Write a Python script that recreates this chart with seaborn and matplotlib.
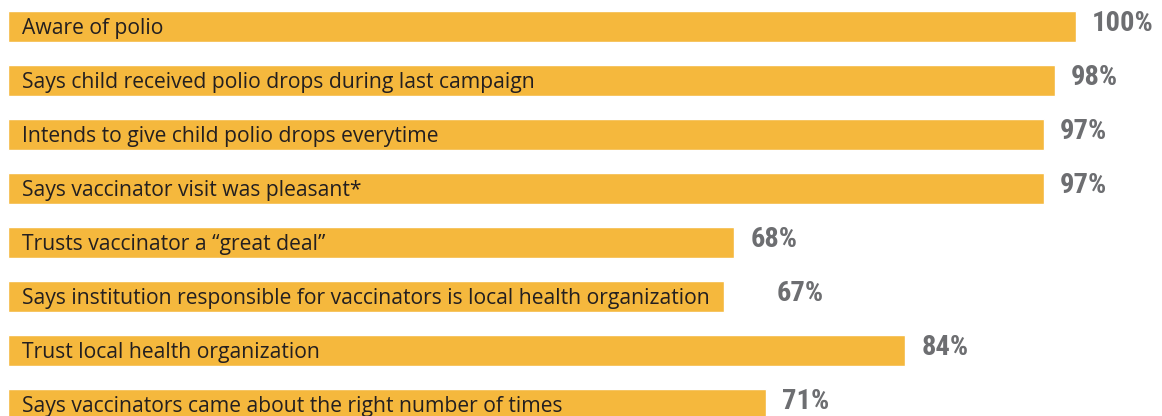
import matplotlib
matplotlib.use('Agg')
import matplotlib.pyplot as plt
import seaborn as sns
import pandas as pd
from matplotlib import font_manager

# survey results
questions = ['Aware of polio',
             'Says child received polio drops during last campaign',
             'Intends to give child polio drops everytime',
             'Says vaccinator visit was pleasant*',
             'Trusts vaccinator a \u201cgreat deal\u201d',
             'Says institution responsible for vaccinators is local health organization',
             'Trust local health organization',
             'Says vaccinators came about the right number of times']
percent = [100, 98, 97, 97, 68, 67, 84, 71]

# extra gap for the value label (the 67% label sits further out in the original)
label_pad = [1.5, 1.5, 1.5, 1.5, 1.5, 5.0, 1.5, 1.5]

bar_color = '#F5B83D'
df = pd.DataFrame({'question': questions, 'percent': percent})

# pick a narrow font for the numbers if one is there
names = {f.name for f in font_manager.fontManager.ttflist}
num_fonts = [n for n in ['Roboto Condensed', 'Liberation Sans Narrow', 'DejaVu Sans Condensed',
                         'Roboto', 'DejaVu Sans'] if n in names]

sns.set_style('white')
fig = plt.figure(figsize=(11.62, 4.16), dpi=100)
ax = fig.add_axes([0, 0, 1, 1])

sns.barplot(data=df, x='percent', y='question', orient='h', color=bar_color,
            width=0.574, saturation=1, ax=ax)

for i, (q, p) in enumerate(zip(questions, percent)):
    ax.text(1.3, i + 0.04, q, va='center', ha='left', fontsize=15.2,
            family=['Open Sans', 'DejaVu Sans'], color='#231F20')
    ax.text(p + label_pad[i], i - 0.05, f'{p}%', va='center', ha='left', fontsize=20.5,
            fontweight='bold', fontstretch='condensed', family=num_fonts,
            color='#6D6E71')

ax.set_xlim(-0.75, 108.05)
ax.set_ylim(7.213, -0.491)
ax.axis('off')

fig.savefig('out.png', dpi=100)
